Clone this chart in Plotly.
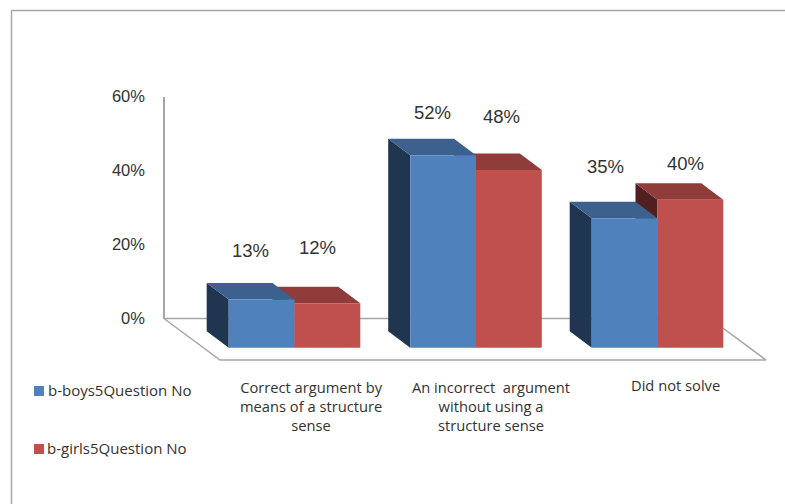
import plotly.graph_objects as go

# ---- data ----
categories = ["Correct argument by<br>means of a structure<br>sense",
              "An incorrect  argument<br>without using a<br>structure sense",
              "Did not solve"]
series_names = ["b-boys5Question No", "b-girls5Question No"]
boys = [13, 52, 35]
girls = [12, 48, 40]
y_ticks = [0, 20, 40, 60]
y_tick_labels = ["0%", "20%", "40%", "60%"]

# ---- page / projection ----
W, H = 785, 504
PX_PER_CAT = 181.5          # horizontal px per category
PX_PER_PCT = 3.7            # vertical px per percentage point
X0_PX = 294.5               # px of category 0 centre
Y0_PX = 347.7               # px of value 0 on the front plane
DEPTH_X = 22 / PX_PER_CAT   # receding offset of the 3-D bars, data units
DEPTH_Y = 16.5 / PX_PER_PCT
BAR_W = 65.8 / PX_PER_CAT

x_range = [-X0_PX / PX_PER_CAT, (W - X0_PX) / PX_PER_CAT]
y_range = [(Y0_PX - H) / PX_PER_PCT, Y0_PX / PX_PER_PCT]

BLUE, BLUE_TOP, BLUE_SIDE = "#4f81bd", "#3c618f", "#1f3550"
RED, RED_TOP, RED_SIDE = "#c0504d", "#8f3c3a", "#4f201f"
GREY = "#a6a6a6"
TXT = "#333333"
SANS = "Liberation Sans"
LBL = "Open Sans"

fig = go.Figure()

# floor outline
fl_front = (Y0_PX - 360) / PX_PER_PCT
fl_back = (Y0_PX - 318.5) / PX_PER_PCT
fl_shift = 56 / PX_PER_CAT
fl_l = (220 - X0_PX) / PX_PER_CAT
fl_r = (766 - X0_PX) / PX_PER_CAT
fig.add_trace(go.Scatter(
    x=[fl_r - fl_shift, fl_l - fl_shift, fl_l, fl_r, fl_r - fl_shift],
    y=[fl_back, fl_back, fl_front, fl_front, fl_back],
    mode="lines", line=dict(color=GREY, width=1.5),
    hoverinfo="skip", showlegend=False))


def faces(values, left_offset, side_color, top_color):
    for i, v in enumerate(values):
        x0 = i + left_offset
        x1 = x0 + BAR_W
        fig.add_trace(go.Scatter(
            x=[x0, x0, x0 - DEPTH_X, x0 - DEPTH_X, x0],
            y=[0, v, v + DEPTH_Y, DEPTH_Y, 0],
            mode="lines", fill="toself", fillcolor=side_color,
            line=dict(width=0), hoverinfo="skip", showlegend=False))
        fig.add_trace(go.Scatter(
            x=[x0, x1, x1 - DEPTH_X, x0 - DEPTH_X, x0],
            y=[v, v, v + DEPTH_Y, v + DEPTH_Y, v],
            mode="lines", fill="toself", fillcolor=top_color,
            line=dict(width=0), hoverinfo="skip", showlegend=False))


faces(girls, 0, RED_SIDE, RED_TOP)
faces(boys, -BAR_W, BLUE_SIDE, BLUE_TOP)

# front faces, on an overlaid pair of axes so they sit above the side faces
xs = list(range(len(categories)))
fig.add_trace(go.Bar(x=xs, y=boys, name=series_names[0], marker=dict(color=BLUE, line=dict(width=0)),
                     xaxis="x2", yaxis="y3", showlegend=False))
fig.add_trace(go.Bar(x=xs, y=girls, name=series_names[1], marker=dict(color=RED, line=dict(width=0)),
                     xaxis="x2", yaxis="y3", showlegend=False))

# value axis on the back wall
fig.add_trace(go.Scatter(x=[None, None], y=[y_ticks[0], y_ticks[-1]], yaxis="y2", mode="lines",
                         hoverinfo="skip", showlegend=False))

ann = []
# data labels (hand-placed in the reference, so each has its own shift from the bar top)
label_shift_x = [[-11, -11, -19.5], [-9.5, -7.5, -5]]
label_shift_y = [[48.8, 43.2, 52], [56, 54, 36.7]]
for s, vals in enumerate([boys, girls]):
    for i, v in enumerate(vals):
        ann.append(dict(x=i + (-BAR_W / 2 if s == 0 else BAR_W / 2), y=v, xref="x", yref="y",
                        text=f"{v}%", showarrow=False, xanchor="center", yanchor="middle",
                        xshift=label_shift_x[s][i], yshift=label_shift_y[s][i],
                        font=dict(family=SANS, size=18.5, color=TXT)))

# category labels
cat_shift = [17, 15, 18]
for i, c in enumerate(categories):
    y_top = 374.5 if i < 2 else 372.5
    ann.append(dict(x=i, y=1 - y_top / H, xref="x", yref="paper", yanchor="top", xanchor="center",
                    text=c, showarrow=False, align="center", xshift=cat_shift[i],
                    font=dict(family=LBL, size=14.7, color=TXT)))

# legend
for name, py, px in zip(series_names, [390, 448], [46, 45]):
    ann.append(dict(x=px / W, y=1 - py / H, xref="paper", yref="paper", xanchor="left", yanchor="middle",
                    text=name, showarrow=False, font=dict(family=LBL, size=15, color=TXT)))

shapes = [
    dict(type="rect", xref="paper", yref="paper", x0=34 / W, x1=44 / W, y0=1 - 396 / H, y1=1 - 386 / H,
         fillcolor=BLUE, line=dict(width=0)),
    dict(type="rect", xref="paper", yref="paper", x0=34 / W, x1=44 / W, y0=1 - 454 / H, y1=1 - 444 / H,
         fillcolor=RED, line=dict(width=0)),
    dict(type="line", xref="paper", yref="paper", x0=11.5 / W, x1=1, y0=1 - 10.5 / H, y1=1 - 10.5 / H,
         line=dict(color=GREY, width=1.5)),
    dict(type="line", xref="paper", yref="paper", x0=11.5 / W, x1=11.5 / W, y0=0, y1=1 - 10.5 / H,
         line=dict(color=GREY, width=1.5)),
]

hidden = dict(visible=False, showgrid=False, zeroline=False, fixedrange=True, automargin=False)
fig.update_layout(
    width=W, height=H, autosize=False,
    margin=dict(l=0, r=0, t=0, b=0, pad=0),
    paper_bgcolor="white", plot_bgcolor="rgba(0,0,0,0)",
    showlegend=False, barmode="group", bargap=1 - 2 * BAR_W, bargroupgap=0,
    xaxis=dict(range=x_range, domain=[0, 1], **hidden),
    xaxis2=dict(range=x_range, overlaying="x", **hidden),
    yaxis=dict(range=y_range, domain=[0, 1], **hidden),
    yaxis3=dict(range=y_range, overlaying="y", **hidden),
    yaxis2=dict(range=[y_ticks[0], y_ticks[-1]], domain=[(H - 318.5) / H, (H - 96.5) / H],
                anchor="free", position=164 / W, side="left", automargin=False,
                tickmode="array", tickvals=y_ticks, ticktext=y_tick_labels,
                showline=True, linecolor=GREY, linewidth=1.5,
                ticks="outside", ticklen=15, tickcolor="rgba(0,0,0,0)", tickwidth=1,
                showgrid=False, zeroline=False, fixedrange=True,
                tickfont=dict(family=SANS, size=16.5, color=TXT)),
    annotations=ann, shapes=shapes,
)
fig.write_html("out.html", config=dict(displayModeBar=False),
               post_script="document.body.style.margin='0';document.body.style.overflow='hidden';")
